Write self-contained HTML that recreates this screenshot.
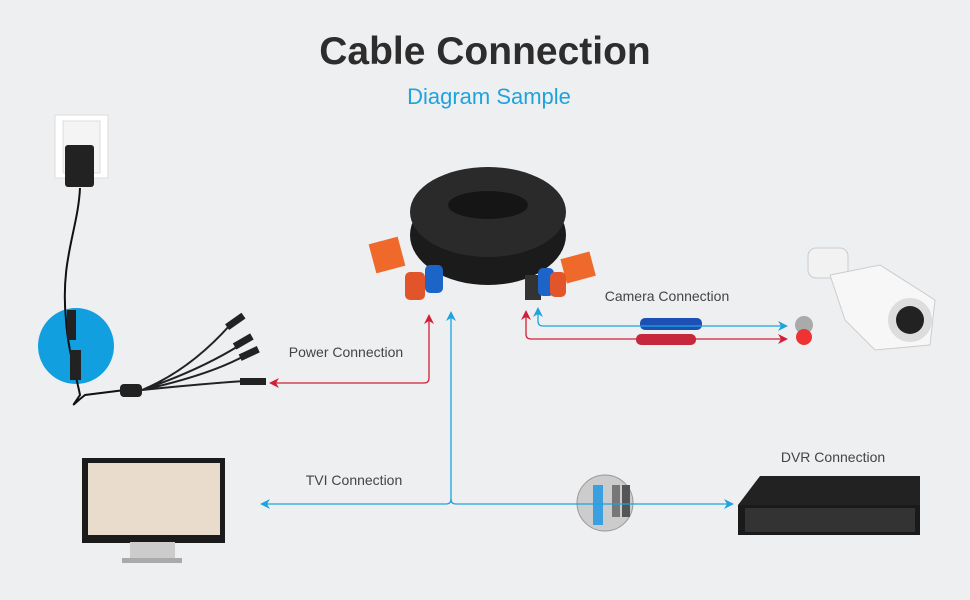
<!DOCTYPE html>
<html><head><meta charset="utf-8"><style>
html,body{margin:0;padding:0;background:#eeeff1;}
body{width:970px;height:600px;overflow:hidden;position:relative;font-family:"Liberation Sans",sans-serif;}
</style></head><body>
<svg width="970" height="600" viewBox="0 0 970 600" xmlns="http://www.w3.org/2000/svg" style="position:absolute;left:0;top:0">
<defs>
<marker id="ar" markerWidth="10" markerHeight="10" refX="8" refY="5" orient="auto-start-reverse" markerUnits="userSpaceOnUse"><path d="M0,0 L10,5 L0,10 L3,5 z" fill="#d31f36"/></marker>
<marker id="ab" markerWidth="10" markerHeight="10" refX="8" refY="5" orient="auto-start-reverse" markerUnits="userSpaceOnUse"><path d="M0,0 L10,5 L0,10 L3,5 z" fill="#1ea3dd"/></marker>
</defs>
<text x="485" y="64" text-anchor="middle" font-size="39" font-weight="bold" fill="#2d2d2d">Cable Connection</text>
<text x="489" y="104" text-anchor="middle" font-size="22" fill="#1ea3dd">Diagram Sample</text>

<!-- power outlet & adapter -->
<rect x="55" y="115" width="53" height="63" fill="#fff" stroke="#ddd"/>
<rect x="63" y="121" width="37" height="52" fill="#f4f4f4" stroke="#ddd"/>
<rect x="65" y="145" width="29" height="42" rx="3" fill="#222"/>
<circle cx="76" cy="346" r="38" fill="#129fe0"/>
<path d="M80,188 C78,230 60,260 66,320 C68,350 75,370 80,395 C70,410 72,405 85,395 L125,390" stroke="#111" stroke-width="2" fill="none"/>
<rect x="67" y="310" width="9" height="30" fill="#222"/>
<rect x="70" y="350" width="11" height="30" fill="#222"/>
<rect x="120" y="384" width="22" height="13" rx="4" fill="#222"/>
<path d="M142,390 Q190,370 230,325 M142,390 Q200,370 240,345 M142,390 Q210,375 246,355 M142,390 Q200,384 245,381" stroke="#222" stroke-width="2" fill="none"/>
<rect x="225" y="318" width="20" height="7" fill="#222" transform="rotate(-35 235 321)"/>
<rect x="233" y="338" width="20" height="7" fill="#222" transform="rotate(-30 243 341)"/>
<rect x="239" y="350" width="20" height="7" fill="#222" transform="rotate(-25 249 353)"/>
<rect x="240" y="378" width="26" height="7" fill="#222"/>

<!-- cable coil -->
<ellipse cx="488" cy="235" rx="78" ry="50" fill="#1b1b1b"/>
<ellipse cx="488" cy="212" rx="78" ry="45" fill="#2a2a2a"/>
<ellipse cx="488" cy="205" rx="40" ry="14" fill="#151515"/>
<rect x="372" y="240" width="30" height="30" fill="#ef6a2a" transform="rotate(-15 387 255)"/>
<rect x="563" y="255" width="30" height="25" fill="#ef6a2a" transform="rotate(-15 578 267)"/>
<rect x="405" y="272" width="20" height="28" rx="5" fill="#e2552a"/>
<rect x="425" y="265" width="18" height="28" rx="5" fill="#1d64c8"/>
<rect x="525" y="275" width="16" height="25" fill="#333"/>
<rect x="538" y="268" width="16" height="28" rx="5" fill="#1d64c8"/>
<rect x="550" y="272" width="16" height="25" rx="5" fill="#e2552a"/>

<!-- camera -->
<rect x="808" y="248" width="40" height="30" rx="8" fill="#f2f2f2" stroke="#ccc"/>
<path d="M830,275 L880,265 L935,300 L930,345 L875,350 L845,320 z" fill="#f7f7f7" stroke="#ccc"/>
<circle cx="910" cy="320" r="22" fill="#ddd"/>
<circle cx="910" cy="320" r="14" fill="#222"/>
<circle cx="804" cy="325" r="9" fill="#aaa"/>
<circle cx="804" cy="337" r="8" fill="#e33"/>

<!-- monitor -->
<rect x="82" y="458" width="143" height="85" fill="#1b1b1b"/>
<rect x="88" y="463" width="132" height="72" fill="#e9dccd"/>
<rect x="130" y="542" width="45" height="18" fill="#ccc"/>
<rect x="122" y="558" width="60" height="5" fill="#aaa"/>

<!-- DVR -->
<path d="M738,505 L760,476 L920,476 L920,505 z" fill="#222"/>
<rect x="738" y="505" width="182" height="30" fill="#1a1a1a"/>
<rect x="745" y="508" width="170" height="24" fill="#333"/>

<!-- connector circle -->
<circle cx="605" cy="503" r="28" fill="#ccc" stroke="#999"/>
<rect x="593" y="485" width="10" height="40" fill="#3aa0e0"/>
<rect x="612" y="485" width="8" height="32" fill="#777"/>
<rect x="622" y="485" width="8" height="32" fill="#555"/>
<rect x="640" y="318" width="62" height="12" rx="5" fill="#1d4fb5"/>
<rect x="636" y="334" width="60" height="11" rx="5" fill="#c4283c"/>

<!-- connectors -->
<path d="M429,316 V378 Q429,383 424,383 H271" stroke="#d31f36" stroke-width="1.3" fill="none" marker-start="url(#ar)" marker-end="url(#ar)"/>
<path d="M451,313 V499 Q451,504 446,504 H262" stroke="#1ea3dd" stroke-width="1.3" fill="none" marker-start="url(#ab)" marker-end="url(#ab)"/>
<path d="M451,499 Q451,504 456,504 H732" stroke="#1ea3dd" stroke-width="1.3" fill="none" marker-end="url(#ab)"/>
<path d="M538,309 V321 Q538,326 543,326 H786" stroke="#1ea3dd" stroke-width="1.3" fill="none" marker-start="url(#ab)" marker-end="url(#ab)"/>
<path d="M526,312 V334 Q526,339 531,339 H786" stroke="#d31f36" stroke-width="1.3" fill="none" marker-start="url(#ar)" marker-end="url(#ar)"/>

<text x="346" y="357" text-anchor="middle" font-size="14" fill="#444">Power Connection</text>
<text x="667" y="301" text-anchor="middle" font-size="14" fill="#444">Camera Connection</text>
<text x="354" y="485" text-anchor="middle" font-size="14" fill="#444">TVI Connection</text>
<text x="833" y="462" text-anchor="middle" font-size="14" fill="#444">DVR Connection</text>
</svg>
</body></html>
